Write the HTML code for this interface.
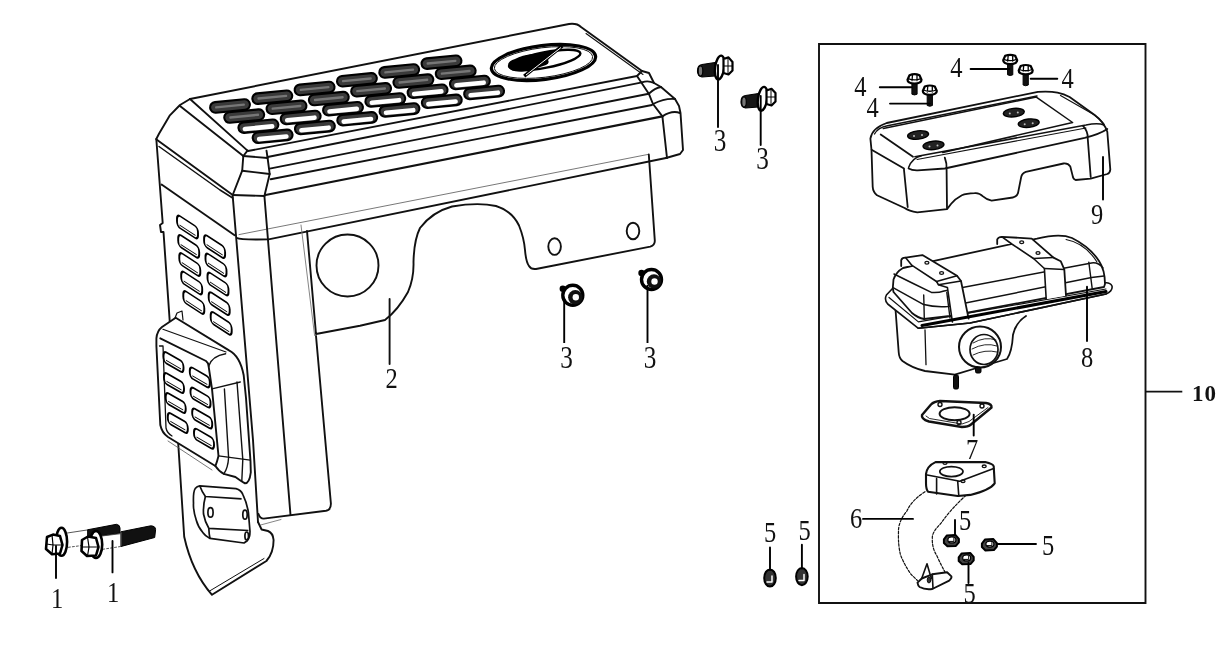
<!DOCTYPE html>
<html><head><meta charset="utf-8">
<style>
html,body{margin:0;padding:0;background:#fff;}
body{width:1225px;height:662px;overflow:hidden;position:relative;}
svg{position:absolute;left:0;top:0;will-change:transform;}
</style></head><body>
<svg width="1225" height="662" viewBox="0 0 1225 662">
<g fill="none" stroke="#111" stroke-width="1.9" stroke-linejoin="round" stroke-linecap="round">
  <path d="M190,99 L569,24 Q577,23 581,27 L642,71"/>
  <path d="M586,33.5 L643,74.5" stroke-width="1.1"/>
  <path d="M642,71 L649,73 L654,83 L661,87 L675,99 L679,106 L680.5,113 L683,150 L680,154 L666,158"/>
  <path d="M248,151 L637,76 L642,71"/>
  <path d="M267.6,157 L642,82.4"/>
  <path d="M269.7,168.6 L648.8,93.7"/>
  <path d="M270.7,179.2 L652,105"/>
  <path d="M265.5,195 L662.4,116.4" stroke-width="2.2"/>
  <path d="M237,238 Q240,240 268.6,239.4 L666,158"/>
  <path d="M239,234.6 L647.6,154.5" stroke-width="0.8" stroke="#555"/>
  <path d="M637,76 L648.8,93.7 L653,104 L662.4,116.4 L667,158"/>
  <path d="M642,82.4 Q648,80 654,83"/>
  <path d="M648.8,93.7 Q655,88 661,87"/>
  <path d="M653,104 Q665,98 675,99"/>
  <path d="M662.4,116.4 Q672,110 680,113"/>
  <path d="M190,99 L180,105 L169.6,115.7 L159,133.8 L156.3,139"/>
  <path d="M190,99 L247.5,150.6"/>
  <path d="M180,106 L243.3,156"/>
  <path d="M247.5,150.6 L243.3,156 L242.2,170.7 L232.7,195"/>
  <path d="M266.5,150.6 L267.6,158 L269.7,174 L264.4,196"/>
  <path d="M243.3,156 L267.6,158"/>
  <path d="M242.2,170.7 L269.7,174"/>
  <path d="M232.7,195 L264.4,196"/>
  <path d="M156.5,139.5 L232.7,195"/>
  <path d="M159,146.5 L220,190 L232.7,198" stroke-width="1.5"/>
  <path d="M161.6,184.5 L234.6,235.2"/>
  <path d="M156.3,139 L162.7,223 L160,225 L161,232 L163.5,232 L178,440 L184.2,536.7 Q192,572 212,594.8 L266.4,561 Q273.6,553 273.6,540 Q273,533 268,531 L261.6,529.5 L258,522"/>
  <path d="M209.6,591 L264,558.5" stroke-width="1"/>
  <path d="M232.7,196 L253,440 L258,522"/>
  <path d="M264.4,196 L290.5,515"/>
  <path d="M316,336 L330.9,503.5 Q331,510 326,510.8 L263.7,518.6 Q260,518.5 258.5,514"/>
  <path d="M260.6,525 L281,519.5" stroke-width="0.8" stroke="#666"/>
</g>

<g>
<g transform="translate(230.0,106.0) rotate(-5.5)"><rect x="-20" y="-5.3" width="40" height="10.6" rx="5.3" fill="#3a3a3a" stroke="#000" stroke-width="2.1"/><rect x="-15" y="-1.2" width="30" height="2.4" rx="1" fill="#777"/></g>
<g transform="translate(244.2,116.1) rotate(-5.5)"><rect x="-20" y="-5.3" width="40" height="10.6" rx="5.3" fill="#3a3a3a" stroke="#000" stroke-width="2.1"/><rect x="-15" y="-1.2" width="30" height="2.4" rx="1" fill="#777"/></g>
<g transform="translate(258.4,126.2) rotate(-5.5)"><rect x="-20" y="-5.3" width="40" height="10.6" rx="5.3" fill="#3a3a3a" stroke="#000" stroke-width="2.1"/><rect x="-16" y="-0.8" width="32" height="4.6" rx="2.3" fill="#fff"/></g>
<g transform="translate(272.6,136.3) rotate(-5.5)"><rect x="-20" y="-5.3" width="40" height="10.6" rx="5.3" fill="#3a3a3a" stroke="#000" stroke-width="2.1"/><rect x="-16" y="-0.8" width="32" height="4.6" rx="2.3" fill="#fff"/></g>
<g transform="translate(272.3,97.2) rotate(-5.5)"><rect x="-20" y="-5.3" width="40" height="10.6" rx="5.3" fill="#3a3a3a" stroke="#000" stroke-width="2.1"/><rect x="-15" y="-1.2" width="30" height="2.4" rx="1" fill="#777"/></g>
<g transform="translate(286.5,107.3) rotate(-5.5)"><rect x="-20" y="-5.3" width="40" height="10.6" rx="5.3" fill="#3a3a3a" stroke="#000" stroke-width="2.1"/><rect x="-15" y="-1.2" width="30" height="2.4" rx="1" fill="#777"/></g>
<g transform="translate(300.7,117.5) rotate(-5.5)"><rect x="-20" y="-5.3" width="40" height="10.6" rx="5.3" fill="#3a3a3a" stroke="#000" stroke-width="2.1"/><rect x="-16" y="-0.8" width="32" height="4.6" rx="2.3" fill="#fff"/></g>
<g transform="translate(314.9,127.5) rotate(-5.5)"><rect x="-20" y="-5.3" width="40" height="10.6" rx="5.3" fill="#3a3a3a" stroke="#000" stroke-width="2.1"/><rect x="-16" y="-0.8" width="32" height="4.6" rx="2.3" fill="#fff"/></g>
<g transform="translate(314.6,88.5) rotate(-5.5)"><rect x="-20" y="-5.3" width="40" height="10.6" rx="5.3" fill="#3a3a3a" stroke="#000" stroke-width="2.1"/><rect x="-15" y="-1.2" width="30" height="2.4" rx="1" fill="#777"/></g>
<g transform="translate(328.8,98.6) rotate(-5.5)"><rect x="-20" y="-5.3" width="40" height="10.6" rx="5.3" fill="#3a3a3a" stroke="#000" stroke-width="2.1"/><rect x="-15" y="-1.2" width="30" height="2.4" rx="1" fill="#777"/></g>
<g transform="translate(343.0,108.7) rotate(-5.5)"><rect x="-20" y="-5.3" width="40" height="10.6" rx="5.3" fill="#3a3a3a" stroke="#000" stroke-width="2.1"/><rect x="-16" y="-0.8" width="32" height="4.6" rx="2.3" fill="#fff"/></g>
<g transform="translate(357.2,118.8) rotate(-5.5)"><rect x="-20" y="-5.3" width="40" height="10.6" rx="5.3" fill="#3a3a3a" stroke="#000" stroke-width="2.1"/><rect x="-16" y="-0.8" width="32" height="4.6" rx="2.3" fill="#fff"/></g>
<g transform="translate(356.9,79.8) rotate(-5.5)"><rect x="-20" y="-5.3" width="40" height="10.6" rx="5.3" fill="#3a3a3a" stroke="#000" stroke-width="2.1"/><rect x="-15" y="-1.2" width="30" height="2.4" rx="1" fill="#777"/></g>
<g transform="translate(371.1,89.8) rotate(-5.5)"><rect x="-20" y="-5.3" width="40" height="10.6" rx="5.3" fill="#3a3a3a" stroke="#000" stroke-width="2.1"/><rect x="-15" y="-1.2" width="30" height="2.4" rx="1" fill="#777"/></g>
<g transform="translate(385.3,100.0) rotate(-5.5)"><rect x="-20" y="-5.3" width="40" height="10.6" rx="5.3" fill="#3a3a3a" stroke="#000" stroke-width="2.1"/><rect x="-16" y="-0.8" width="32" height="4.6" rx="2.3" fill="#fff"/></g>
<g transform="translate(399.5,110.0) rotate(-5.5)"><rect x="-20" y="-5.3" width="40" height="10.6" rx="5.3" fill="#3a3a3a" stroke="#000" stroke-width="2.1"/><rect x="-16" y="-0.8" width="32" height="4.6" rx="2.3" fill="#fff"/></g>
<g transform="translate(399.2,71.0) rotate(-5.5)"><rect x="-20" y="-5.3" width="40" height="10.6" rx="5.3" fill="#3a3a3a" stroke="#000" stroke-width="2.1"/><rect x="-15" y="-1.2" width="30" height="2.4" rx="1" fill="#777"/></g>
<g transform="translate(413.4,81.1) rotate(-5.5)"><rect x="-20" y="-5.3" width="40" height="10.6" rx="5.3" fill="#3a3a3a" stroke="#000" stroke-width="2.1"/><rect x="-15" y="-1.2" width="30" height="2.4" rx="1" fill="#777"/></g>
<g transform="translate(427.6,91.2) rotate(-5.5)"><rect x="-20" y="-5.3" width="40" height="10.6" rx="5.3" fill="#3a3a3a" stroke="#000" stroke-width="2.1"/><rect x="-16" y="-0.8" width="32" height="4.6" rx="2.3" fill="#fff"/></g>
<g transform="translate(441.8,101.3) rotate(-5.5)"><rect x="-20" y="-5.3" width="40" height="10.6" rx="5.3" fill="#3a3a3a" stroke="#000" stroke-width="2.1"/><rect x="-16" y="-0.8" width="32" height="4.6" rx="2.3" fill="#fff"/></g>
<g transform="translate(441.5,62.2) rotate(-5.5)"><rect x="-20" y="-5.3" width="40" height="10.6" rx="5.3" fill="#3a3a3a" stroke="#000" stroke-width="2.1"/><rect x="-15" y="-1.2" width="30" height="2.4" rx="1" fill="#777"/></g>
<g transform="translate(455.7,72.3) rotate(-5.5)"><rect x="-20" y="-5.3" width="40" height="10.6" rx="5.3" fill="#3a3a3a" stroke="#000" stroke-width="2.1"/><rect x="-15" y="-1.2" width="30" height="2.4" rx="1" fill="#777"/></g>
<g transform="translate(469.9,82.5) rotate(-5.5)"><rect x="-20" y="-5.3" width="40" height="10.6" rx="5.3" fill="#3a3a3a" stroke="#000" stroke-width="2.1"/><rect x="-16" y="-0.8" width="32" height="4.6" rx="2.3" fill="#fff"/></g>
<g transform="translate(484.1,92.5) rotate(-5.5)"><rect x="-20" y="-5.3" width="40" height="10.6" rx="5.3" fill="#3a3a3a" stroke="#000" stroke-width="2.1"/><rect x="-16" y="-0.8" width="32" height="4.6" rx="2.3" fill="#fff"/></g>
</g>
<g>
  <ellipse cx="543.5" cy="62.5" rx="52.5" ry="17" fill="none" stroke="#000" stroke-width="3.2" transform="rotate(-7 543.5 62.5)"/>
  <ellipse cx="543.5" cy="62.5" rx="49.5" ry="14.8" fill="none" stroke="#000" stroke-width="0.9" transform="rotate(-7 543.5 62.5)"/>
  <ellipse cx="545" cy="60" rx="36" ry="7.8" fill="#fff" stroke="#000" stroke-width="2.4" transform="rotate(-11 545 60)"/>
  <path d="M508,67 Q507,61 515,59 Q522,55 533,54 L555,50 Q552,56 548,60 Q550,63 546,65 Q536,69 525,71 Q512,73 508,67 Z" fill="#000"/>
  <path d="M562.4,45.8 L524.2,76.2" stroke="#000" stroke-width="3.4"/>
  <path d="M561,47.5 L526,75" stroke="#fff" stroke-width="1"/>
</g>

<g>
<g transform="translate(187.5,227.0) skewY(33)"><rect x="-10.5" y="-6.0" width="21" height="12" rx="3" ry="4.5" fill="#fff" stroke="#000" stroke-width="1.9"/><path d="M-8.0,3.2 L8.0,3.2" fill="none" stroke="#000" stroke-width="1"/></g>
<g transform="translate(188.7,246.4) skewY(33)"><rect x="-10.5" y="-6.0" width="21" height="12" rx="3" ry="4.5" fill="#fff" stroke="#000" stroke-width="1.9"/><path d="M-8.0,3.2 L8.0,3.2" fill="none" stroke="#000" stroke-width="1"/></g>
<g transform="translate(189.8,264.5) skewY(33)"><rect x="-10.5" y="-6.0" width="21" height="12" rx="3" ry="4.5" fill="#fff" stroke="#000" stroke-width="1.9"/><path d="M-8.0,3.2 L8.0,3.2" fill="none" stroke="#000" stroke-width="1"/></g>
<g transform="translate(191.7,283.0) skewY(33)"><rect x="-10.5" y="-6.0" width="21" height="12" rx="3" ry="4.5" fill="#fff" stroke="#000" stroke-width="1.9"/><path d="M-8.0,3.2 L8.0,3.2" fill="none" stroke="#000" stroke-width="1"/></g>
<g transform="translate(193.8,302.5) skewY(33)"><rect x="-10.5" y="-6.0" width="21" height="12" rx="3" ry="4.5" fill="#fff" stroke="#000" stroke-width="1.9"/><path d="M-8.0,3.2 L8.0,3.2" fill="none" stroke="#000" stroke-width="1"/></g>
<g transform="translate(214.6,246.6) skewY(33)"><rect x="-10.5" y="-6.0" width="21" height="12" rx="3" ry="4.5" fill="#fff" stroke="#000" stroke-width="1.9"/><path d="M-8.0,3.2 L8.0,3.2" fill="none" stroke="#000" stroke-width="1"/></g>
<g transform="translate(216.0,265.0) skewY(33)"><rect x="-10.5" y="-6.0" width="21" height="12" rx="3" ry="4.5" fill="#fff" stroke="#000" stroke-width="1.9"/><path d="M-8.0,3.2 L8.0,3.2" fill="none" stroke="#000" stroke-width="1"/></g>
<g transform="translate(218.0,284.0) skewY(33)"><rect x="-10.5" y="-6.0" width="21" height="12" rx="3" ry="4.5" fill="#fff" stroke="#000" stroke-width="1.9"/><path d="M-8.0,3.2 L8.0,3.2" fill="none" stroke="#000" stroke-width="1"/></g>
<g transform="translate(219.2,303.6) skewY(33)"><rect x="-10.5" y="-6.0" width="21" height="12" rx="3" ry="4.5" fill="#fff" stroke="#000" stroke-width="1.9"/><path d="M-8.0,3.2 L8.0,3.2" fill="none" stroke="#000" stroke-width="1"/></g>
<g transform="translate(221.2,323.4) skewY(33)"><rect x="-10.5" y="-6.0" width="21" height="12" rx="3" ry="4.5" fill="#fff" stroke="#000" stroke-width="1.9"/><path d="M-8.0,3.2 L8.0,3.2" fill="none" stroke="#000" stroke-width="1"/></g>
</g>
<g fill="none" stroke="#111" stroke-width="1.9" stroke-linejoin="round" stroke-linecap="round">
<path d="M156.4,338.3 Q157,331 162,327 L175.7,317.7 L229,350.4 Q240,356 243.7,375.3 L246,398 L250.5,461.3 L250.8,472.3 Q249.5,483 245,483.4 L240.7,480.7 L235.4,477 L223.8,473.9 Q219,471.5 215.4,466 L168,437 Q162,433 160.3,425 L156.4,346 Z" fill="#fff"/>
<path d="M175,318 L177,313 L182,311 L183,320" stroke-width="1.2"/>
<path d="M162.9,329.3 L226,352" stroke-width="1.2"/>
<path d="M160.3,338.3 L206,361 Q208.6,363 208.6,366.2 L212,388.9 L218.5,456 Q217,462 215.4,466"/>
<path d="M163,346 L159.5,346 M163,346 L166,428 Q167,433 172,436" stroke-width="1.3"/>
<path d="M208.6,366.2 Q212,356 225.6,353.8" stroke-width="1.4"/>
<path d="M212,388.9 L240.3,382" stroke-width="1.4"/>
<path d="M224.4,388.9 L228.6,457.5 Q228,468 223.8,473.9" stroke-width="1.4"/>
<path d="M237,382 L242.8,459.6 L241.8,481" stroke-width="1.4"/>
<path d="M218.5,455.9 L250.2,460.1" stroke-width="1.4"/>
<path d="M168,441 L212,470" stroke-width="0.8" stroke="#555"/>
</g>
<g transform="translate(173.5,362.0) skewY(30)"><rect x="-10.0" y="-5.5" width="20" height="11" rx="3" ry="4.5" fill="#fff" stroke="#000" stroke-width="1.9"/><path d="M-7.5,2.7 L7.5,2.7" fill="none" stroke="#000" stroke-width="1"/></g>
<g transform="translate(174.0,383.0) skewY(30)"><rect x="-10.0" y="-5.5" width="20" height="11" rx="3" ry="4.5" fill="#fff" stroke="#000" stroke-width="1.9"/><path d="M-7.5,2.7 L7.5,2.7" fill="none" stroke="#000" stroke-width="1"/></g>
<g transform="translate(175.7,403.0) skewY(30)"><rect x="-10.0" y="-5.5" width="20" height="11" rx="3" ry="4.5" fill="#fff" stroke="#000" stroke-width="1.9"/><path d="M-7.5,2.7 L7.5,2.7" fill="none" stroke="#000" stroke-width="1"/></g>
<g transform="translate(177.8,423.0) skewY(30)"><rect x="-10.0" y="-5.5" width="20" height="11" rx="3" ry="4.5" fill="#fff" stroke="#000" stroke-width="1.9"/><path d="M-7.5,2.7 L7.5,2.7" fill="none" stroke="#000" stroke-width="1"/></g>
<g transform="translate(199.8,377.4) skewY(30)"><rect x="-10.0" y="-5.5" width="20" height="11" rx="3" ry="4.5" fill="#fff" stroke="#000" stroke-width="1.9"/><path d="M-7.5,2.7 L7.5,2.7" fill="none" stroke="#000" stroke-width="1"/></g>
<g transform="translate(200.5,397.6) skewY(30)"><rect x="-10.0" y="-5.5" width="20" height="11" rx="3" ry="4.5" fill="#fff" stroke="#000" stroke-width="1.9"/><path d="M-7.5,2.7 L7.5,2.7" fill="none" stroke="#000" stroke-width="1"/></g>
<g transform="translate(202.2,418.5) skewY(30)"><rect x="-10.0" y="-5.5" width="20" height="11" rx="3" ry="4.5" fill="#fff" stroke="#000" stroke-width="1.9"/><path d="M-7.5,2.7 L7.5,2.7" fill="none" stroke="#000" stroke-width="1"/></g>
<g transform="translate(204.0,438.7) skewY(30)"><rect x="-10.0" y="-5.5" width="20" height="11" rx="3" ry="4.5" fill="#fff" stroke="#000" stroke-width="1.9"/><path d="M-7.5,2.7 L7.5,2.7" fill="none" stroke="#000" stroke-width="1"/></g>
<g fill="none" stroke="#111" stroke-width="1.7" stroke-linejoin="round">
<path d="M199.7,485.8 L236,488.6 Q241,490 242.8,494.3 Q247,503 248.4,512.4 L250,531.6 Q250,538 247.3,540.7 L244,543 L210,538.4 Q205,536 203,532.8 Q198,527 196.3,520.3 Q193,510 193.5,503.3 Q193,492 195.2,488.6 Q197,486 199.7,485.8 Z" fill="#fff"/>
<path d="M199.7,485.8 Q202,492 205.4,496.5 L241.6,498.8"/>
<path d="M205.4,496.5 Q203,505 203.5,514 Q205,522 208.8,528.3 L248.4,530.5"/>
<path d="M208.8,528.3 Q209,534 210,538.4"/>
<ellipse cx="210.5" cy="512.4" rx="2.6" ry="4.8"/>
<ellipse cx="245" cy="514.7" rx="2.2" ry="4.5"/>
<ellipse cx="246.7" cy="536" rx="1.8" ry="4"/>
</g>
<g fill="none" stroke="#111" stroke-width="1.9" stroke-linejoin="round" stroke-linecap="round">
  <path d="M301,225 L314.6,335.5" stroke-width="0.9" stroke="#777"/>
  <path d="M307,231 L316,334 L360,325.7 L385,320 Q398,310 408,292 Q414,278 413.5,262 Q414,240 420,228 Q432,212 452,206.5 Q478,202 496,206 Q512,211 519,225.5 Q524,238 525,250 Q526,262 529,266 Q531,269.5 536,269 L650.3,246.6 Q655,245 654.8,240.6 L648.8,154.5"/>
  <circle cx="347.5" cy="265.5" r="31"/>
  <ellipse cx="554.6" cy="246.6" rx="6.3" ry="8.3"/>
  <ellipse cx="633" cy="231" rx="6.3" ry="8.3"/>
  <path d="M389.6,299 L389.6,364"/>
</g>
<text transform="translate(391.5,388.0) scale(0.86,1)" text-anchor="middle" font-family="Liberation Serif" font-size="28.5" fill="#111">2</text>

<g stroke-linejoin="round" stroke-linecap="round">
  <!-- bolt 1a -->
  <path d="M67.4,533 L89,529.7" stroke="#444" stroke-width="0.9" fill="none"/>
  <path d="M68.4,547.3 L82,545.5" stroke="#444" stroke-width="0.9" fill="none" stroke-dasharray="2,2"/>
  <path d="M88,529.7 L116.4,524.3 Q120,525 120,528 L120,533 L100,536 L88,537 Z" fill="#111" stroke="#000" stroke-width="1"/>
  <ellipse cx="61.5" cy="541.8" rx="5.6" ry="14" fill="#fff" stroke="#000" stroke-width="2.6"/>
  <path d="M47,537 L53,534.6 L60,536 L62.5,545 L60,553.5 L52,554.2 L46,549 Z" fill="#fff" stroke="#000" stroke-width="2.6"/>
  <path d="M52,534.8 L53,545 L52,554 M46.5,544 L53,545 L62,545" fill="none" stroke="#000" stroke-width="1.2"/>
  <!-- bolt 1b -->
  <path d="M121.3,531.7 L150.7,525.8 Q155.6,526 155.6,529.7 L154.7,537.5 L121.3,546.4 Z" fill="#111" stroke="#000" stroke-width="1"/>
  <path d="M101.7,536 L121.3,533.6" stroke="#444" stroke-width="0.9" fill="none"/>
  <path d="M102.7,549.3 L121.3,546.4" stroke="#444" stroke-width="0.9" fill="none" stroke-dasharray="2,2"/>
  <ellipse cx="96" cy="544.5" rx="6.2" ry="13.5" fill="#fff" stroke="#000" stroke-width="2.6"/>
  <path d="M82,540 L88,536.5 L96,538 L98.5,547 L96,555.5 L87,556 L81.5,551 Z" fill="#fff" stroke="#000" stroke-width="2.6"/>
  <path d="M87.5,537 L89,547 L87.5,556 M82,547 L89,547 L98,547" fill="none" stroke="#000" stroke-width="1.2"/>
  <path d="M56,546 L56,578 M112.5,541 L112.5,572.4" stroke="#000" stroke-width="1.9" fill="none"/>
</g>
<text transform="translate(57.0,608.0) scale(0.86,1)" text-anchor="middle" font-family="Liberation Serif" font-size="28.5" fill="#111">1</text>
<text transform="translate(113.0,602.0) scale(0.86,1)" text-anchor="middle" font-family="Liberation Serif" font-size="28.5" fill="#111">1</text>

<g><circle cx="572.8" cy="295.3" r="10" fill="#fff" stroke="#000" stroke-width="3.4"/><circle cx="562.8" cy="288.8" r="3.2" fill="#000"/><circle cx="575.3" cy="297.3" r="7.2" fill="#111"/><circle cx="575.8" cy="297.3" r="3.2" fill="#fff"/><path d="M564.2,300 L564.2,343" stroke="#000" stroke-width="1.9" fill="none"/><circle cx="651.5" cy="279.5" r="10" fill="#fff" stroke="#000" stroke-width="3.4"/><circle cx="641.5" cy="273.0" r="3.2" fill="#000"/><circle cx="654.0" cy="281.5" r="7.2" fill="#111"/><circle cx="654.5" cy="281.5" r="3.2" fill="#fff"/><path d="M647.5,285 L647.5,343" stroke="#000" stroke-width="1.9" fill="none"/></g>
<text transform="translate(566.5,368.0) scale(0.8,1)" text-anchor="middle" font-family="Liberation Serif" font-size="31.5" fill="#111">3</text>
<text transform="translate(650.0,368.0) scale(0.8,1)" text-anchor="middle" font-family="Liberation Serif" font-size="31.5" fill="#111">3</text>

<g stroke-linejoin="round" stroke-linecap="round">
  <path d="M702,64.5 L715,62.5 L715,76 L702,77 Q697.5,76 697.5,71 Q697.5,65 702,64.5 Z" fill="#161616" stroke="#000" stroke-width="1.2"/>
  <ellipse cx="700.5" cy="71" rx="2.3" ry="5" fill="#777" stroke="#000" stroke-width="1.2"/>
  <ellipse cx="719.7" cy="67.5" rx="4.6" ry="12" fill="#fff" stroke="#000" stroke-width="2.4" transform="rotate(8 719.7 67.5)"/>
  <path d="M723.5,59 L728.5,57.4 L732.5,62 L732.5,70.5 L728.5,74.5 L723.5,73 Z" fill="#fff" stroke="#000" stroke-width="2.2"/>
  <path d="M724,66 L732,66 M728,57.5 L728,74" stroke="#000" stroke-width="1"/>
  <path d="M718,65 L718,127" stroke="#000" stroke-width="1.9"/>
  <path d="M745.5,95.5 L758.5,93.5 L758.5,107 L745.5,108 Q741,107 741,102 Q741,96 745.5,95.5 Z" fill="#161616" stroke="#000" stroke-width="1.2"/>
  <ellipse cx="744" cy="102" rx="2.3" ry="5" fill="#777" stroke="#000" stroke-width="1.2"/>
  <ellipse cx="762.6" cy="98.8" rx="4.6" ry="12" fill="#fff" stroke="#000" stroke-width="2.4" transform="rotate(8 762.6 98.8)"/>
  <path d="M766.5,90.5 L771.5,88.8 L775.5,93 L775.5,101.5 L771.5,105.5 L766.5,104 Z" fill="#fff" stroke="#000" stroke-width="2.2"/>
  <path d="M767,97 L775,97 M771,89 L771,105" stroke="#000" stroke-width="1"/>
  <path d="M760.7,96 L760.7,145" stroke="#000" stroke-width="1.9"/>
</g>
<text transform="translate(720.0,151.0) scale(0.8,1)" text-anchor="middle" font-family="Liberation Serif" font-size="31.5" fill="#111">3</text>
<text transform="translate(762.5,169.0) scale(0.8,1)" text-anchor="middle" font-family="Liberation Serif" font-size="31.5" fill="#111">3</text>

<g fill="none" stroke="#111" stroke-width="1.9">
  <path d="M819,44 L1145.5,44 L1145.5,603 L819,603 Z"/>
  <path d="M1145.5,391.6 L1182.3,391.6" stroke-width="1.6"/>
</g>
<text x="1192" y="401" font-family="Liberation Serif" font-size="23" font-weight="bold" fill="#111" letter-spacing="1">10</text>

<g stroke-linejoin="round" stroke-linecap="round">
<path d="M911.9,82.7 L911.9,94.2 Q914.5,95.7 917.1,94.2 L917.1,82.7 Z" fill="#111" stroke="#000" stroke-width="1"/><path d="M907.5,79.7 Q907.5,83.2 914.5,83.5 Q921.5,83.2 921.5,79.7 L919.5,75.2 Q914.5,73.2 909.5,75.2 Z" fill="#fff" stroke="#000" stroke-width="2.2"/><path d="M908.0,78.7 Q914.5,81.2 921.0,78.7 M912.5,74.7 L912.0,80.7 M917.0,74.7 L917.0,80.7" fill="none" stroke="#000" stroke-width="1.3"/>
<path d="M927.2,94 L927.2,105.5 Q929.8000000000001,107 932.4000000000001,105.5 L932.4000000000001,94 Z" fill="#111" stroke="#000" stroke-width="1"/><path d="M922.8000000000001,91 Q922.8000000000001,94.5 929.8000000000001,94.8 Q936.8000000000001,94.5 936.8000000000001,91 L934.8000000000001,86.5 Q929.8000000000001,84.5 924.8000000000001,86.5 Z" fill="#fff" stroke="#000" stroke-width="2.2"/><path d="M923.3000000000001,90 Q929.8000000000001,92.5 936.3000000000001,90 M927.8000000000001,86 L927.3000000000001,92 M932.3000000000001,86 L932.3000000000001,92" fill="none" stroke="#000" stroke-width="1.3"/>
<path d="M1007.6,63.3 L1007.6,74.8 Q1010.2,76.3 1012.8000000000001,74.8 L1012.8000000000001,63.3 Z" fill="#111" stroke="#000" stroke-width="1"/><path d="M1003.2,60.3 Q1003.2,63.8 1010.2,64.1 Q1017.2,63.8 1017.2,60.3 L1015.2,55.8 Q1010.2,53.8 1005.2,55.8 Z" fill="#fff" stroke="#000" stroke-width="2.2"/><path d="M1003.7,59.3 Q1010.2,61.8 1016.7,59.3 M1008.2,55.3 L1007.7,61.3 M1012.7,55.3 L1012.7,61.3" fill="none" stroke="#000" stroke-width="1.3"/>
<path d="M1023.1,73.5 L1023.1,85.0 Q1025.7,86.5 1028.3,85.0 L1028.3,73.5 Z" fill="#111" stroke="#000" stroke-width="1"/><path d="M1018.7,70.5 Q1018.7,74.0 1025.7,74.3 Q1032.7,74.0 1032.7,70.5 L1030.7,66.0 Q1025.7,64.0 1020.7,66.0 Z" fill="#fff" stroke="#000" stroke-width="2.2"/><path d="M1019.2,69.5 Q1025.7,72.0 1032.2,69.5 M1023.7,65.5 L1023.2,71.5 M1028.2,65.5 L1028.2,71.5" fill="none" stroke="#000" stroke-width="1.3"/>
<path d="M879.8,87.3 L911.4,87.3 M890,103.6 L929.8,103.6 M970.6,69 L1009.3,69 M1030.7,78.8 L1057.3,78.8" stroke="#000" stroke-width="1.9" fill="none"/>
</g>
<text transform="translate(860.4,96.0) scale(0.86,1)" text-anchor="middle" font-family="Liberation Serif" font-size="28.5" fill="#111">4</text>
<text transform="translate(872.6,116.5) scale(0.86,1)" text-anchor="middle" font-family="Liberation Serif" font-size="28.5" fill="#111">4</text>
<text transform="translate(956.3,76.7) scale(0.86,1)" text-anchor="middle" font-family="Liberation Serif" font-size="28.5" fill="#111">4</text>
<text transform="translate(1067.5,88.0) scale(0.86,1)" text-anchor="middle" font-family="Liberation Serif" font-size="28.5" fill="#111">4</text>
<g fill="none" stroke="#111" stroke-width="1.8" stroke-linejoin="round" stroke-linecap="round">
  <path d="M871.5,150 L870.4,138.7 Q872,128 886.7,123 L1037.9,91.8 Q1050,91 1057.5,92.6 Q1064,94 1069.6,97 L1095,115.2 Q1104,122 1107.3,131.8 L1110.3,169.6 Q1110,173 1107.3,174 L1090.7,178.6 L1075.6,180 Q1073,179 1072.6,175.6 L1070.3,166.5 Q1068,163 1063.5,163.5 L1025.8,171.8 Q1022,173 1021.2,177 L1018,193.2 Q1016.5,197 1012.8,197.5 L991.6,200.6 Q987,200 983,196.4 Q979,192.5 974.6,193.2 Q966,193.5 961.9,195.3 Q955,199 951.2,203.8 L947,209.1 L917.3,212.3 Q909,211 904.6,208 L877,195.3 Q873,192 872.7,186.9 Z" fill="#fff"/>
  <path d="M874.5,134 Q878,127.5 887.5,125.8 L1037,96" stroke-width="1.4"/>
  <path d="M1060.5,95.6 L1093.7,114.4 Q1100,119 1104,124" stroke-width="1.2"/>
  <path d="M880.7,134.5 L913,156.7"/>
  <path d="M883.3,128.5 L1036.3,97.1 L1072.6,122.5 L942.8,152.5" stroke-width="1.5"/>
  <path d="M914.9,156.7 L1086,125 Q1098,122.5 1104,125" stroke-width="1.6"/>
  <path d="M917,159.5 L1086,128" stroke-width="1.1"/>
  <path d="M908.6,168.5 Q912,170.5 917.7,170.3 L944.8,168.5 L1084.7,137.9 Q1100,134 1107.3,129"/>
  <path d="M921.3,155.8 Q912,158 908.6,167.6" stroke-width="1.5"/>
  <path d="M871.6,149.7 L904,168.5 L904,170 L907.7,207"/>
  <path d="M944.8,157.6 Q947,163 946.6,170 L947,208"/>
  <path d="M1083,125.8 Q1088,131 1087.7,138 L1090.7,177"/>
  <path d="M1103,157 L1103,199.6" stroke="#000" stroke-width="1.9"/>
  <g stroke="#000">
  <ellipse cx="918.1" cy="135" rx="10.5" ry="4.2" fill="#222" stroke-width="1.4" transform="rotate(-6 918.1 135)"/>
  <ellipse cx="933.5" cy="145.4" rx="10.5" ry="4.2" fill="#222" stroke-width="1.4" transform="rotate(-6 933.5 145.4)"/>
  <ellipse cx="1013.8" cy="112.6" rx="10.5" ry="4.2" fill="#222" stroke-width="1.4" transform="rotate(-6 1013.8 112.6)"/>
  <ellipse cx="1028.7" cy="123.2" rx="10.5" ry="4.2" fill="#222" stroke-width="1.4" transform="rotate(-6 1028.7 123.2)"/>
  </g>
  <g fill="#bbb" stroke="none">
  <circle cx="914" cy="136" r="1"/><circle cx="922" cy="135" r="1"/>
  <circle cx="929.5" cy="146.5" r="1"/><circle cx="937.5" cy="145.5" r="1"/>
  <circle cx="1009.8" cy="113.6" r="1"/><circle cx="1017.8" cy="112.6" r="1"/>
  <circle cx="1024.7" cy="124.2" r="1"/><circle cx="1032.7" cy="123.2" r="1"/>
  </g>
</g>
<text transform="translate(1097.0,224.0) scale(0.86,1)" text-anchor="middle" font-family="Liberation Serif" font-size="28.5" fill="#111">9</text>

<g fill="none" stroke="#111" stroke-width="1.8" stroke-linejoin="round" stroke-linecap="round">
  <!-- lower body -->
  <path d="M895.4,308 L898.7,352.2 Q899,358 902.5,361 Q912,368 925,371 L954.8,374.7 L980,367 L1007,359 Q1012,352 1013,334.8 Q1016,322 1026,316" fill="#fff"/>
  <path d="M925,329.8 L926,364.7" stroke-width="1.3"/>
  <!-- flange -->
  <path d="M886.4,295 Q884,300 887.7,304 L918.4,328.3 L970,323 L1106,294 Q1113,291 1112,286 Q1110,282 1104,283 L893,288 Z" fill="#fff" stroke-width="1.6"/>
  <path d="M889,297.5 L918.4,321.9 L1106,289" stroke-width="1.2"/>
  <!-- upper body -->
  <path d="M892.8,288 L893.5,279.5 Q896,272 903,268 L936.5,260.3 L1037,238.6 Q1060,233 1072,238 Q1090,247 1099,261 Q1105,270 1105,284 L1104,287 L950,316 L924,319 Q918,318 912,313 L893.5,292 Z" fill="#fff"/>
  <path d="M894,274 Q912,283 931.4,292.4 Q938,293 944,291 L1091.5,263 Q1098,262 1103,268" stroke-width="1.5"/>
  <path d="M893.5,287.9 L923.7,304.6 Q935,307.5 948,306.5 L1091.5,277.6 L1104,276" stroke-width="1.5"/>
  <path d="M923.7,295 Q924,304 924.3,319.3" stroke-width="1.4"/>
  <path d="M946.8,292.4 L950,318" stroke-width="1.4"/>
  <path d="M1088.8,262.1 L1092.3,289.3" stroke-width="1.4"/>
  <path d="M1066,239.5 Q1085,243 1097,262" stroke-width="1.1"/>
  <!-- left strap -->
  <path d="M901.2,266 L901.2,260.3 Q902,257.5 905.7,257.7 L922.4,255.1 L957,275.7 L961,281 L968.6,318.6 L952.4,322 L947.4,287.4 L938.4,284.7 L936.5,281.5 L912,265.4 Z" fill="#fff" stroke="none"/>
  <path d="M901.2,266 L901.2,260.3 Q902,257.5 905.7,257.7 L922.4,255.1 L957,275.7 L961,281 L968.6,318.6" fill="none"/>
  <path d="M905.7,257.7 L912,265.4 L936.5,281.5 L938.4,284.7 L947.4,287.4 L952.4,322" stroke-width="1.6"/>
  <path d="M936.5,281.5 L957,275.7 M938.4,284.7 L961,281" stroke-width="1.5"/>
  <ellipse cx="926.9" cy="262.8" rx="2" ry="1.4" stroke-width="1.3"/>
  <ellipse cx="941.6" cy="273" rx="2" ry="1.4" stroke-width="1.3"/>
  <!-- right strap -->
  <path d="M997.2,244 L997.2,239.5 Q998,237 1002,236.8 L1031.7,238.6 L1053.5,257.6 L1060.7,261.2 L1064.3,269.4 L1066,295.7 L1046.2,299.3 L1044.4,268.5 L1033.5,258.5 L1011.8,244 Z" fill="#fff" stroke="none"/>
  <path d="M997.2,244 L997.2,239.5 Q998,237 1002,236.8 L1031.7,238.6 L1053.5,257.6 L1060.7,261.2 L1064.3,269.4 L1066,295.7" fill="none"/>
  <path d="M1002,236.8 L1011.8,244 L1033.5,258.5 L1044.4,268.5 L1046.2,299.3" stroke-width="1.6"/>
  <path d="M1033.5,258.5 L1053.5,257.6 M1044.4,268.5 L1064.3,269.4" stroke-width="1.5"/>
  <ellipse cx="1021.7" cy="242.2" rx="2" ry="1.4" stroke-width="1.3"/>
  <ellipse cx="1038" cy="253" rx="2" ry="1.4" stroke-width="1.3"/>
  <path d="M922,325.5 L1106,291.5" stroke="#000" stroke-width="3"/>
  <path d="M918.4,328.3 L970,323 L1106,294" stroke-width="1.6"/>
  <!-- pipe -->
  <ellipse cx="980" cy="347" rx="21" ry="20.5" fill="#fff" stroke-width="2"/>
  <ellipse cx="984" cy="349.5" rx="14" ry="15" fill="#fff" stroke-width="1.7"/>
  <path d="M973,343 Q985,336 996,340 M972,349 Q985,342 997,346 M973,355 Q985,349 997,352" stroke-width="0.9"/>
  <!-- studs -->
  <rect x="953.5" y="375" width="5" height="14" rx="1.5" fill="#111" stroke="#000" stroke-width="1"/>
  <rect x="975.5" y="367" width="5.5" height="6" rx="1.5" fill="#111" stroke="#000" stroke-width="1"/>
  <path d="M1087,286.6 L1087,341" stroke="#000" stroke-width="1.9"/>
</g>
<text transform="translate(1087.0,367.0) scale(0.86,1)" text-anchor="middle" font-family="Liberation Serif" font-size="28.5" fill="#111">8</text>

<g fill="none" stroke="#111" stroke-width="1.8" stroke-linejoin="round" stroke-linecap="round">
  <!-- gasket 7 -->
  <path d="M922,415 L931,404.5 Q934,401.5 940,401 L986,403 Q992,404 991.5,407.5 L971,424.5 Q968,427 962,427 L929,421.5 Q921,419 922,415 Z" fill="#fff" stroke-width="2.4"/>
  <path d="M926,416 L929.5,418.5 L962,424 L969,421.5 L988,407.5" stroke-width="0.9"/>
  <ellipse cx="954.6" cy="413.7" rx="15" ry="6.5" stroke-width="2"/>
  <circle cx="940" cy="404.5" r="2" stroke-width="1.4"/>
  <circle cx="982" cy="406" r="2" stroke-width="1.4"/>
  <circle cx="959" cy="422.5" r="2" stroke-width="1.4"/>
  <path d="M973.7,414.7 L973.7,435.5" stroke="#000" stroke-width="1.9"/>
  <!-- pipe body (dashed) -->
  <path d="M925,491.7 Q912,500 907,510.8 Q898,522 898.5,532 Q898,545 900.6,555.2 Q905,566 911,574.3 L917.5,580.6" stroke-width="1.2" stroke-dasharray="2.5,1.6"/>
  <path d="M966.2,495 Q950,510 940.8,523.5 Q932,532 932.3,538.3 Q932,548 936.6,555.2 Q941,565 945,572" stroke-width="1.2" stroke-dasharray="2.5,1.6"/>
  <!-- foot -->
  <path d="M917.5,582.7 Q918,586 919.6,587 Q925,590 932.3,589 L949.2,580.6 Q952,578 951.4,576.4 L947.1,572.2 L932.3,574.3 L921.7,578.5 Z" fill="#fff" stroke-width="1.9"/>
  <path d="M921.7,578.5 L927,563.7 L931.3,578.5 M932.3,574.3 L933,588.5" stroke-width="1.6"/>
  <ellipse cx="929" cy="580" rx="1.8" ry="3" fill="#333" stroke-width="1"/>
  <!-- pipe 6 flange -->
  <path d="M926,474 Q927,466 935.5,462.1 L985.2,462.1 Q993,464 993.7,466.3 L994.7,483.3 Q990,490 970.4,494.9 L957.7,496 L928,491.7 Q926,489 926,483.3 Z" fill="#fff" stroke-width="2.1"/>
  <path d="M926,474.8 L959.8,481.2 L993.7,468.5 M936.6,478.5 L936.6,493.9 M957.7,481.2 L958.8,496" stroke-width="1.6"/>
  <ellipse cx="951.4" cy="471.6" rx="11.6" ry="5" stroke-width="1.7"/>
  <ellipse cx="945" cy="463" rx="2" ry="1.3" stroke-width="1.3"/>
  <ellipse cx="984.2" cy="466.3" rx="2" ry="1.3" stroke-width="1.3"/>
  <ellipse cx="963" cy="481.2" rx="2" ry="1.3" stroke-width="1.3"/>
  <path d="M863,518.9 L913,518.9" stroke="#000" stroke-width="1.9"/>
  <path d="M943.9,539.4 L946.9,535.4 L955.4,534.9 L958.9,538.9 L958.9,542.4 L955.9,545.9 L947.4,546.1999999999999 L943.9,542.9 Z" fill="#444" stroke="#000" stroke-width="2"/><ellipse cx="951.9" cy="539.9" rx="4" ry="3" fill="#fff" stroke="#000" stroke-width="1.2"/><path d="M949.4,541.4 L953.9,541.4 L953.9,538.4" fill="none" stroke="#000" stroke-width="1"/>
  <path d="M981.9,543.6 L984.9,539.6 L993.4,539.1 L996.9,543.1 L996.9,546.6 L993.9,550.1 L985.4,550.4 L981.9,547.1 Z" fill="#444" stroke="#000" stroke-width="2"/><ellipse cx="989.9" cy="544.1" rx="4" ry="3" fill="#fff" stroke="#000" stroke-width="1.2"/><path d="M987.4,545.6 L991.9,545.6 L991.9,542.6" fill="none" stroke="#000" stroke-width="1"/>
  <path d="M958.7,557.4 L961.7,553.4 L970.2,552.9 L973.7,556.9 L973.7,560.4 L970.7,563.9 L962.2,564.1999999999999 L958.7,560.9 Z" fill="#444" stroke="#000" stroke-width="2"/><ellipse cx="966.7" cy="557.9" rx="4" ry="3" fill="#fff" stroke="#000" stroke-width="1.2"/><path d="M964.2,559.4 L968.7,559.4 L968.7,556.4" fill="none" stroke="#000" stroke-width="1"/>
  <path d="M955,535 L955,520 M997,544 L1036,544 M968.5,563 L968.5,583" stroke="#000" stroke-width="1.9"/>
  <!-- nuts 5 left -->
  <ellipse cx="770" cy="578" rx="5.8" ry="8.6" fill="#333" stroke="#000" stroke-width="2"/>
  <path d="M767,582 L772,582 L772,576" stroke="#fff" stroke-width="1.5"/>
  <ellipse cx="801.9" cy="576.6" rx="5.8" ry="8.6" fill="#333" stroke="#000" stroke-width="2"/>
  <path d="M799,580.5 L804,580.5 L804,574.5" stroke="#fff" stroke-width="1.5"/>
  <path d="M770,547.4 L770,570 M801.9,544.7 L801.9,568.5" stroke="#000" stroke-width="1.9"/>
</g>
<text transform="translate(972.0,459.0) scale(0.86,1)" text-anchor="middle" font-family="Liberation Serif" font-size="28.5" fill="#111">7</text>
<text transform="translate(965.0,530.0) scale(0.86,1)" text-anchor="middle" font-family="Liberation Serif" font-size="28.5" fill="#111">5</text>
<text transform="translate(1048.0,555.0) scale(0.86,1)" text-anchor="middle" font-family="Liberation Serif" font-size="28.5" fill="#111">5</text>
<text transform="translate(969.5,603.0) scale(0.86,1)" text-anchor="middle" font-family="Liberation Serif" font-size="28.5" fill="#111">5</text>
<text transform="translate(770.2,542.0) scale(0.86,1)" text-anchor="middle" font-family="Liberation Serif" font-size="28.5" fill="#111">5</text>
<text transform="translate(804.6,540.0) scale(0.86,1)" text-anchor="middle" font-family="Liberation Serif" font-size="28.5" fill="#111">5</text>
<text transform="translate(856.0,528.0) scale(0.86,1)" text-anchor="middle" font-family="Liberation Serif" font-size="28.5" fill="#111">6</text>

</svg>
</body></html>
